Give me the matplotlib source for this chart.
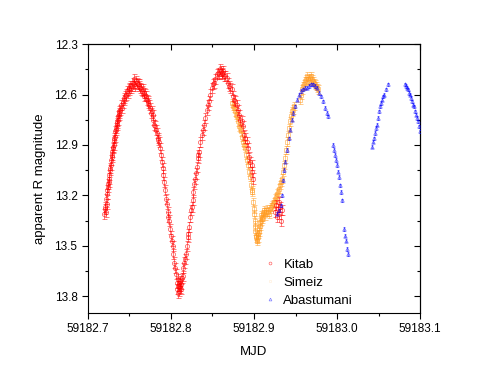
import matplotlib
matplotlib.use("Agg")
import matplotlib.pyplot as plt
from matplotlib.ticker import MultipleLocator
from matplotlib.lines import Line2D

plt.rcParams['font.family'] = ['Liberation Sans', 'DejaVu Sans']

# Kitab (red circles)
kitab_mjd = [59182.720, 59182.721, 59182.722, 59182.723, 59182.724, 59182.725, 59182.726, 59182.727,
             59182.728, 59182.729, 59182.730, 59182.731, 59182.732, 59182.733, 59182.734, 59182.735,
             59182.736, 59182.737, 59182.738, 59182.739, 59182.740, 59182.742, 59182.744, 59182.746,
             59182.748, 59182.750, 59182.752, 59182.754, 59182.756, 59182.758, 59182.760, 59182.762,
             59182.764, 59182.766, 59182.768, 59182.770, 59182.772, 59182.774, 59182.776, 59182.778,
             59182.780, 59182.782, 59182.784, 59182.786, 59182.788, 59182.790, 59182.792, 59182.794,
             59182.796, 59182.798, 59182.800, 59182.802, 59182.804, 59182.806, 59182.807, 59182.808,
             59182.809, 59182.810, 59182.811, 59182.812, 59182.813, 59182.814, 59182.816, 59182.818,
             59182.820, 59182.822, 59182.824, 59182.826, 59182.828, 59182.830, 59182.832, 59182.834,
             59182.837, 59182.840, 59182.843, 59182.846, 59182.849, 59182.852, 59182.855, 59182.858,
             59182.860, 59182.862, 59182.864, 59182.867, 59182.870, 59182.873, 59182.876, 59182.879,
             59182.882, 59182.885, 59182.888, 59182.891, 59182.894, 59182.897, 59182.899,
             59182.9255, 59182.9265, 59182.9275, 59182.9285, 59182.9295, 59182.9305, 59182.9315,
             59182.9325, 59182.9335,
             59182.7205, 59182.7215, 59182.7225, 59182.7235, 59182.7245, 59182.7255, 59182.7265,
             59182.7275, 59182.7285, 59182.7295, 59182.7305, 59182.7315, 59182.7325, 59182.7335,
             59182.7345, 59182.7355, 59182.7365, 59182.7375, 59182.741, 59182.743, 59182.745,
             59182.747, 59182.749, 59182.751, 59182.753, 59182.755, 59182.757, 59182.759,
             59182.761, 59182.763, 59182.765, 59182.767, 59182.769, 59182.771, 59182.773,
             59182.775, 59182.777, 59182.779, 59182.781, 59182.783, 59182.785, 59182.787,
             59182.789, 59182.791, 59182.793, 59182.795, 59182.797, 59182.799, 59182.801,
             59182.803, 59182.805, 59182.8075, 59182.8085, 59182.8095, 59182.8105, 59182.8115,
             59182.8125, 59182.815, 59182.817, 59182.819, 59182.821, 59182.823, 59182.825,
             59182.827, 59182.829, 59182.831, 59182.833, 59182.8355, 59182.8385, 59182.8415,
             59182.8445, 59182.8475, 59182.8505, 59182.8535, 59182.8565, 59182.859, 59182.861,
             59182.863, 59182.8655, 59182.8685, 59182.8715, 59182.8745, 59182.8775, 59182.8805,
             59182.8835, 59182.8865, 59182.8895, 59182.8925, 59182.8955, 59182.898]
kitab_mag = [13.31, 13.28, 13.22, 13.19, 13.15, 13.12, 13.08, 13.04,
             12.99, 12.97, 12.92, 12.90, 12.86, 12.82, 12.80, 12.77,
             12.75, 12.72, 12.70, 12.69, 12.66, 12.65, 12.62, 12.60,
             12.59, 12.56, 12.56, 12.53, 12.54, 12.52, 12.54, 12.54,
             12.57, 12.57, 12.61, 12.61, 12.65, 12.66, 12.71, 12.72,
             12.78, 12.81, 12.86, 12.88, 12.96, 13.04, 13.12, 13.22,
             13.30, 13.35, 13.44, 13.50, 13.60, 13.67, 13.72, 13.74,
             13.70, 13.77, 13.74, 13.73, 13.69, 13.68, 13.60, 13.55,
             13.45, 13.39, 13.29, 13.23, 13.13, 13.07, 12.98, 12.94,
             12.84, 12.78, 12.69, 12.64, 12.56, 12.53, 12.48, 12.48,
             12.46, 12.47, 12.49, 12.50, 12.55, 12.57, 12.63, 12.66,
             12.72, 12.76, 12.84, 12.88, 12.97, 13.02, 13.10,
             13.30, 13.26, 13.33, 13.28, 13.24, 13.31, 13.27,
             13.35, 13.29,
             13.27, 13.30, 13.25, 13.17, 13.13, 13.10, 13.05,
             13.02, 12.96, 12.94, 12.91, 12.87, 12.85, 12.81,
             12.78, 12.76, 12.73, 12.71, 12.68, 12.63, 12.61,
             12.58, 12.57, 12.55, 12.55, 12.51, 12.55, 12.53,
             12.55, 12.56, 12.58, 12.59, 12.60, 12.63, 12.64,
             12.68, 12.70, 12.75, 12.79, 12.83, 12.87, 12.92,
             13.00, 13.08, 13.17, 13.25, 13.33, 13.40, 13.47,
             13.55, 13.63, 13.76, 13.78, 13.72, 13.75, 13.71,
             13.76, 13.63, 13.58, 13.50, 13.43, 13.33, 13.27,
             13.18, 13.10, 13.03, 12.96, 12.88, 12.81, 12.74,
             12.66, 12.60, 12.54, 12.51, 12.47, 12.45, 12.48,
             12.46, 12.49, 12.53, 12.56, 12.61, 12.64, 12.69,
             12.75, 12.79, 12.86, 12.92, 13.00, 13.06]
kitab_err = 0.03

# Simeiz (orange squares)
simeiz_mjd = [59182.8735, 59182.8759, 59182.8783, 59182.8807, 59182.8831, 59182.8855, 59182.8880,
              59182.8904, 59182.8928, 59182.8952, 59182.8964, 59182.8976, 59182.8988, 59182.9000,
              59182.9012, 59182.9024, 59182.9036, 59182.9048, 59182.9060, 59182.9072, 59182.9084,
              59182.9096, 59182.9108, 59182.9120, 59182.9145, 59182.9169, 59182.9193, 59182.9217,
              59182.9241, 59182.9265, 59182.9289, 59182.9313, 59182.9337, 59182.9361, 59182.9386,
              59182.9410, 59182.9434, 59182.9458, 59182.9482, 59182.9554, 59182.9578, 59182.9602,
              59182.9627, 59182.9651, 59182.9675, 59182.9699, 59182.9723, 59182.9747, 59182.9771,
              59182.8747, 59182.8771, 59182.8795, 59182.8819, 59182.8843, 59182.8867, 59182.8892,
              59182.8916, 59182.8940, 59182.8970, 59182.8994, 59182.9006, 59182.9018, 59182.9030,
              59182.9042, 59182.9054, 59182.9066, 59182.9078, 59182.9090, 59182.9102, 59182.9115,
              59182.9132, 59182.9157, 59182.9181, 59182.9205, 59182.9229, 59182.9253, 59182.9277,
              59182.9301, 59182.9325, 59182.9349, 59182.9373, 59182.9398, 59182.9422, 59182.9446,
              59182.9470, 59182.9566, 59182.9590, 59182.9615, 59182.9639, 59182.9663, 59182.9687,
              59182.9711, 59182.9735, 59182.9759]
simeiz_mag = [12.65, 12.68, 12.72, 12.76, 12.80, 12.85, 12.90,
              12.96, 13.02, 13.09, 13.14, 13.18, 13.24, 13.31,
              13.38, 13.44, 13.46, 13.45, 13.42, 13.38, 13.35,
              13.33, 13.31, 13.30, 13.30, 13.30, 13.28, 13.26,
              13.24, 13.21, 13.18, 13.14, 13.10, 13.02, 12.93,
              12.84, 12.76, 12.70, 12.67, 12.63, 12.57, 12.54,
              12.51, 12.51, 12.50, 12.51, 12.53, 12.55, 12.57,
              12.67, 12.70, 12.73, 12.79, 12.82, 12.88, 12.92,
              12.99, 13.06, 13.17, 13.28, 13.35, 13.41, 13.45,
              13.47, 13.43, 13.40, 13.36, 13.32, 13.34, 13.29,
              13.32, 13.28, 13.31, 13.27, 13.25, 13.22, 13.19,
              13.16, 13.12, 13.06, 12.98, 12.88, 12.80, 12.73,
              12.69, 12.60, 12.55, 12.52, 12.49, 12.52, 12.49,
              12.52, 12.54, 12.56]
simeiz_err = 0.025

# Abastumani (blue triangles)
abast_mjd = [59182.9277, 59182.9301, 59182.9325, 59182.9337, 59182.9349, 59182.9361, 59182.9373,
             59182.9398, 59182.9422, 59182.9434, 59182.9458, 59182.9470, 59182.9494, 59182.9518,
             59182.9542, 59182.9566, 59182.9590, 59182.9614, 59182.9639, 59182.9663, 59182.9687,
             59182.9711, 59182.9735, 59182.9759, 59182.9783, 59182.9807, 59182.9831, 59182.9855,
             59182.9880, 59182.9892,
             59182.9952, 59182.9964, 59182.9976, 59182.9988, 59183.0000, 59183.0012, 59183.0024,
             59183.0036, 59183.0048, 59183.0060, 59183.0084, 59183.0096, 59183.0108, 59183.0120,
             59183.0133,
             59183.0422, 59183.0434, 59183.0446, 59183.0458, 59183.0470, 59183.0482, 59183.0494,
             59183.0506, 59183.0518, 59183.0530, 59183.0542, 59183.0554, 59183.0566, 59183.0590,
             59183.0614,
             59183.0819, 59183.0831, 59183.0843, 59183.0855, 59183.0867, 59183.0880, 59183.0892,
             59183.0904, 59183.0916, 59183.0928, 59183.0940, 59183.0952, 59183.0964, 59183.0976,
             59183.0988, 59183.1000]
abast_mag = [13.31, 13.29, 13.26, 13.20, 13.11, 13.05, 13.00,
             12.93, 12.86, 12.81, 12.75, 12.71, 12.67, 12.63,
             12.60, 12.58, 12.57, 12.56, 12.56, 12.55, 12.54,
             12.54, 12.55, 12.56, 12.59, 12.61, 12.64, 12.68,
             12.71, 12.73,
             12.90, 12.93, 12.96, 12.99, 13.02, 13.06, 13.09,
             13.14, 13.18, 13.23, 13.40, 13.44, 13.47, 13.52,
             13.55,
             12.91, 12.88, 12.86, 12.83, 12.80, 12.78, 12.74,
             12.70, 12.67, 12.65, 12.63, 12.61, 12.60, 12.57,
             12.54,
             12.54, 12.55, 12.56, 12.57, 12.59, 12.60, 12.62,
             12.64, 12.66, 12.67, 12.70, 12.72, 12.74, 12.76,
             12.79, 12.82]
abast_err = 0.01

fig = plt.figure(figsize=(4.88, 3.77), dpi=100)
ax = fig.add_axes([0.180, 0.170, 0.681, 0.713])

ax.errorbar(kitab_mjd, kitab_mag, yerr=kitab_err, fmt='o', ms=3, mfc='none', mec='red',
            mew=0.6, ecolor='red', elinewidth=0.6, capsize=1.8, capthick=0.6, alpha=0.6,
            zorder=3)
ax.errorbar(simeiz_mjd, simeiz_mag, yerr=simeiz_err, fmt='s', ms=3, mfc='none', mec='#ff9a1f',
            mew=0.6, ecolor='#ff9a1f', elinewidth=0.6, capsize=1.8, capthick=0.6, alpha=0.6,
            zorder=2)
ax.errorbar(abast_mjd, abast_mag, yerr=abast_err, fmt='^', ms=2.5, mfc='none', mec='blue',
            mew=0.6, ecolor='blue', elinewidth=0.6, capsize=1, capthick=0.6, alpha=0.55,
            zorder=4)

ax.set_xlim(59182.7, 59183.1)
ax.set_ylim(13.9, 12.3)
ax.xaxis.set_major_locator(MultipleLocator(0.1))
ax.xaxis.set_minor_locator(MultipleLocator(0.05))
ax.yaxis.set_major_locator(MultipleLocator(0.3))
ax.yaxis.set_minor_locator(MultipleLocator(0.15))
ax.xaxis.set_major_formatter(plt.FuncFormatter(lambda v, p: f'{v:.1f}'))
ax.yaxis.set_major_formatter(plt.FuncFormatter(lambda v, p: f'{v:.1f}'))
ax.tick_params(which='major', direction='out', length=4, width=0.8, labelsize=8.5)
ax.tick_params(which='minor', direction='out', length=2, width=0.8)

# mirrored ticks pointing inward on top and right
top = ax.secondary_xaxis('top')
top.xaxis.set_major_locator(MultipleLocator(0.1))
top.xaxis.set_minor_locator(MultipleLocator(0.05))
top.tick_params(which='major', direction='in', length=4, width=0.8, labeltop=False)
top.tick_params(which='minor', direction='in', length=2, width=0.8)
right = ax.secondary_yaxis('right')
right.yaxis.set_major_locator(MultipleLocator(0.3))
right.yaxis.set_minor_locator(MultipleLocator(0.15))
right.tick_params(which='major', direction='in', length=4, width=0.8, labelright=False)
right.tick_params(which='minor', direction='in', length=2, width=0.8)

ax.set_xlabel('MJD', fontsize=9.5, labelpad=8)
ax.set_ylabel('apparent R magnitude', fontsize=9.5, labelpad=6)

handles = [
    Line2D([], [], ls='none', marker='o', ms=2, mfc='none', mec='red', mew=0.5, alpha=0.6),
    Line2D([], [], ls='none', marker='s', ms=2, mfc='none', mec='#ff9a1f', mew=0.5, alpha=0.15),
    Line2D([], [], ls='none', marker='^', ms=2, mfc='none', mec='blue', mew=0.5, alpha=0.5),
]
ax.legend(handles, ['Kitab', 'Simeiz', 'Abastumani'], loc='lower left',
          bbox_to_anchor=(0.533, 0.022), borderaxespad=0, borderpad=0, frameon=False,
          fontsize=9.5, handlelength=0.8, handletextpad=0.6, labelspacing=0.45)

fig.savefig('out.png', dpi=100)
